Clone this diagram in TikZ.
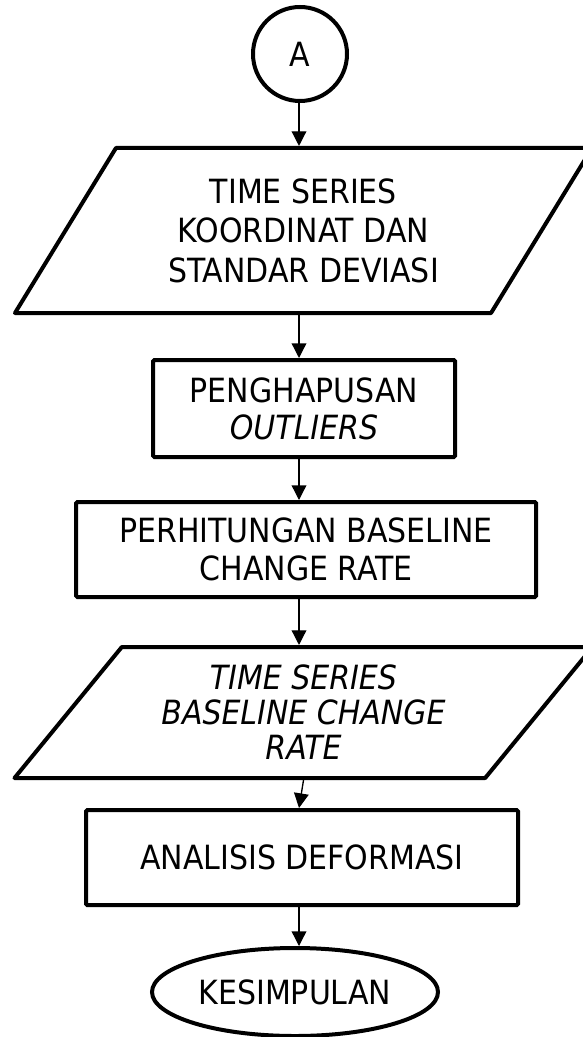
\documentclass[tikz,border=0pt]{standalone}
\usepackage{fontspec}
\setmainfont{DejaVu Sans Condensed}
\usetikzlibrary{shapes.geometric,arrows.meta}

\begin{document}
\begin{tikzpicture}[x=0.75pt,y=-0.75pt,
    txt/.style={font=\fontsize{25pt}{28.5pt}\selectfont, align=center},
    proc/.style={txt, draw, line width=3pt, rounded corners=1pt, inner sep=0pt},
    io/.style={txt, draw, line width=3pt, trapezium, trapezium stretches=true, inner sep=0pt, line join=round},
    arr/.style={line width=1pt, -{Triangle[length=11pt,width=11pt]}}]
    \fill[white] (0,0) rectangle (582,1037);
    \useasboundingbox (0,0) rectangle (582,1037);
    \coordinate (spine) at (299,0);

    \node[txt, draw, circle, line width=3pt, minimum size=70.5pt, inner sep=0pt] (A) at (300,54) {A};
    \node[io, trapezium left angle=55, trapezium right angle=125, minimum width=434.25pt, minimum height=123.75pt,
        font=\fontsize{25pt}{29.6pt}\selectfont] (p1) at (303.5,230.5) {TIME SERIES\\KOORDINAT DAN\\STANDAR DEVIASI};
    \node[proc, minimum width=226.5pt, minimum height=72.75pt,
        font=\fontsize{25pt}{27.75pt}\selectfont] (r1) at (304,408.5) {PENGHAPUSAN\\\textit{OUTLIERS}};
    \node[proc, minimum width=345pt, minimum height=71.25pt] (r2) at (306,549.5) {PERHITUNGAN BASELINE\\CHANGE RATE};
    \node[io, trapezium left angle=48.5, trapezium right angle=131.5, minimum width=434.25pt, minimum height=98.25pt,
        font=\fontsize{25pt}{26.3pt}\selectfont\itshape] (p2) at (303.5,712.5) {TIME SERIES\\BASELINE CHANGE\\RATE};
    \node[proc, minimum width=324pt, minimum height=71.25pt] (r3) at (302,857.5) {ANALISIS DEFORMASI};
    \node[txt, draw, ellipse, line width=3pt, minimum width=214.5pt, minimum height=66pt, inner sep=0pt] (E) at (295,992) {KESIMPULAN};

    \draw[arr] (A.south -| spine) -- (p1.north -| spine);
    \draw[arr] (p1.south -| spine) -- (r1.north -| spine);
    \draw[arr] (r1.south -| spine) -- (r2.north -| spine);
    \draw[arr] (r2.south -| spine) -- (p2.north -| spine);
    \draw[arr] (p2.south) -- (r3.north -| spine);
    \draw[arr] (r3.south -| spine) -- (E.north -| spine);
\end{tikzpicture}
\end{document}
